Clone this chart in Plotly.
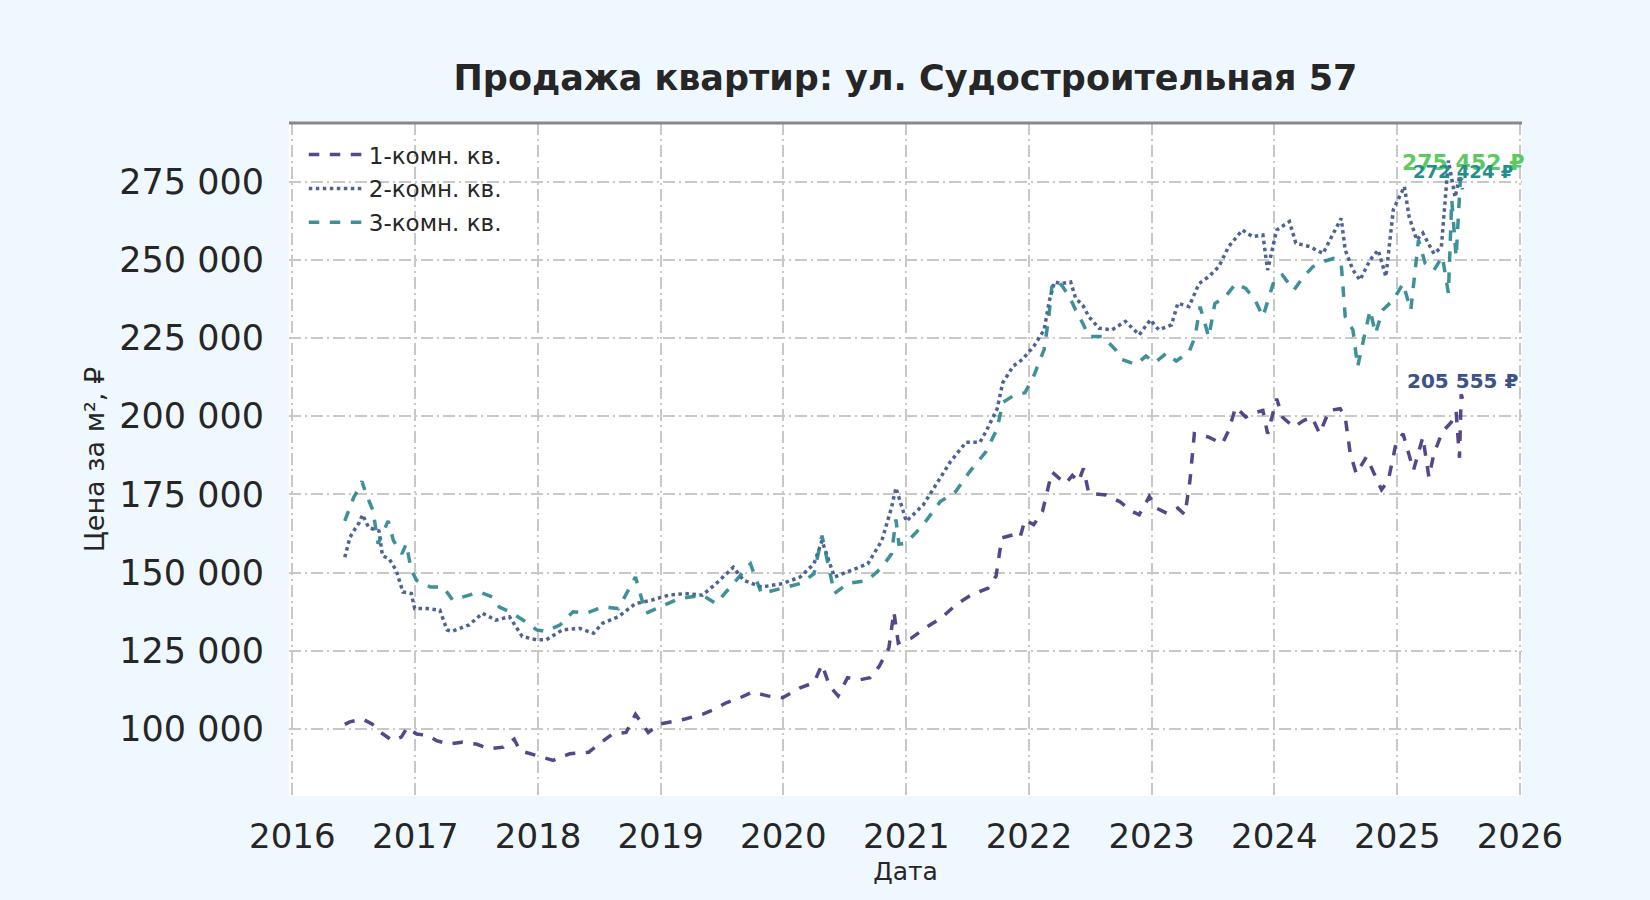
#! /usr/bin/env python3

import plotly.graph_objects as go

title = "Продажа квартир: ул. Судостроительная 57"
names = ["1-комн. кв.", "2-комн. кв.", "3-комн. кв."]

dates_1 = [
    "2016-06-05", "2016-06-20", "2016-07-10", "2016-07-28", "2016-08-25", "2016-09-20",
    "2016-10-25", "2016-11-20", "2016-12-08", "2017-01-05", "2017-02-10", "2017-03-05",
    "2017-04-10", "2017-05-20", "2017-07-01", "2017-08-10", "2017-09-20", "2017-10-22",
    "2017-11-08", "2017-12-28", "2018-02-15", "2018-04-05", "2018-06-01", "2018-07-01",
    "2018-08-10", "2018-09-20", "2018-10-18", "2018-11-25", "2018-12-30", "2019-03-15",
    "2019-05-05", "2019-06-10", "2019-07-15", "2019-08-25", "2019-10-01", "2019-11-15",
    "2019-12-30", "2020-02-20", "2020-04-01", "2020-04-25", "2020-05-18", "2020-06-12",
    "2020-07-10", "2020-08-18", "2020-09-15", "2020-10-12", "2020-11-10", "2020-11-25",
    "2020-12-08", "2021-01-15", "2021-03-01", "2021-04-15", "2021-06-01", "2021-07-15",
    "2021-09-01", "2021-09-25", "2021-10-12", "2021-11-15", "2021-12-05", "2021-12-20",
    "2022-01-15", "2022-02-10", "2022-02-22", "2022-03-10", "2022-04-01", "2022-04-20",
    "2022-05-10", "2022-05-28", "2022-06-12", "2022-06-28", "2022-08-18", "2022-09-28",
    "2022-11-05", "2022-11-25", "2022-12-25", "2023-01-15", "2023-02-15", "2023-03-20",
    "2023-04-10", "2023-04-25", "2023-05-08", "2023-06-20", "2023-07-30", "2023-08-18",
    "2023-09-08", "2023-10-08", "2023-10-25", "2023-11-28", "2023-12-12", "2024-01-08",
    "2024-01-25", "2024-02-28", "2024-03-28", "2024-04-22", "2024-05-15", "2024-06-12",
    "2024-07-15", "2024-07-30", "2024-08-14", "2024-09-01", "2024-10-01", "2024-10-25",
    "2024-11-15", "2024-12-05", "2024-12-28", "2025-01-18", "2025-02-18", "2025-03-18",
    "2025-04-05", "2025-04-20", "2025-05-15", "2025-06-10", "2025-06-25", "2025-07-05",
    "2025-07-10", "2025-07-14",
]
price_1 = [
    101500, 102300, 102800, 103200, 101600, 98900,
    96300, 97400, 100500, 98400, 97900, 96300,
    95200, 95800, 95200, 93700, 94200, 96800,
    93100, 91600, 90000, 92100, 92600, 95200,
    98400, 98900, 104700, 98900, 101600, 103200,
    104700, 106300, 108400, 110000, 111800, 110600,
    110000, 113200, 114800, 120600, 113700, 110600,
    116400, 115800, 116400, 120000, 125900, 137500,
    127500, 129000, 132500, 135500, 140000, 143000,
    145000, 148900, 161100, 162100, 161100, 166900,
    165300, 169500, 174800, 182200, 180100, 178500,
    181100, 179000, 183300, 175300, 174800, 172700,
    169500, 168500, 174300, 170600, 169000, 170600,
    168500, 179400, 194400, 193300, 191200, 195400,
    202900, 199700, 200800, 201800, 194400, 205600,
    199700, 196500, 198600, 199700, 194400, 201800,
    202400, 199700, 188000, 181600, 187000, 181600,
    176500, 179400, 191200, 194400, 182700, 193300,
    180500, 188000, 195000, 198000, 201500, 186700,
    207000, 205555,
]

dates_2 = [
    "2016-06-05", "2016-06-20", "2016-07-05", "2016-07-18", "2016-07-28", "2016-08-15",
    "2016-09-15", "2016-09-25", "2016-10-15", "2016-11-05", "2016-11-25", "2016-12-20",
    "2016-12-30", "2017-02-05", "2017-03-15", "2017-04-05", "2017-04-20", "2017-06-10",
    "2017-07-20", "2017-08-28", "2017-10-08", "2017-11-15", "2017-12-28", "2018-01-25",
    "2018-03-15", "2018-05-05", "2018-06-15", "2018-07-12", "2018-08-28", "2018-10-18",
    "2018-12-05", "2019-01-25", "2019-03-15", "2019-05-05", "2019-06-15", "2019-08-05",
    "2019-09-05", "2019-10-28", "2019-12-30", "2020-02-20", "2020-04-01", "2020-04-25",
    "2020-06-01", "2020-07-30", "2020-09-08", "2020-10-20", "2020-11-18", "2020-12-01",
    "2021-01-01", "2021-02-20", "2021-04-12", "2021-05-12", "2021-06-28", "2021-08-08",
    "2021-08-25", "2021-09-28", "2021-10-15", "2021-11-15", "2021-12-12", "2022-01-15",
    "2022-02-15", "2022-03-03", "2022-03-18", "2022-04-05", "2022-05-05", "2022-05-20",
    "2022-06-10", "2022-06-28", "2022-07-28", "2022-09-05", "2022-10-15", "2022-11-25",
    "2022-12-28", "2023-01-22", "2023-03-01", "2023-03-20", "2023-04-22", "2023-05-22",
    "2023-06-20", "2023-07-20", "2023-08-18", "2023-09-28", "2023-10-28", "2023-11-28",
    "2023-12-12", "2024-01-08", "2024-02-15", "2024-03-05", "2024-04-15", "2024-05-25",
    "2024-06-25", "2024-07-18", "2024-07-30", "2024-08-22", "2024-09-12", "2024-10-12",
    "2024-11-05", "2024-11-28", "2024-12-20", "2025-01-08", "2025-01-22", "2025-02-05",
    "2025-02-28", "2025-03-18", "2025-04-20", "2025-05-12", "2025-06-02", "2025-06-22",
    "2025-07-05", "2025-07-14",
]
price_2 = [
    154900, 161200, 163900, 166000, 168500, 164400,
    163300, 155400, 154400, 150700, 143800, 143300,
    138500, 138500, 138000, 131700, 131200, 133300,
    137000, 134800, 135900, 129600, 128500, 128500,
    131700, 132200, 130600, 133800, 135900, 140100,
    141200, 142800, 143300, 142800, 146500, 151700,
    147500, 145400, 146500, 148600, 152800, 160200,
    148600, 151200, 152800, 160200, 170800, 177100,
    166400, 171600, 180100, 185400, 191700, 191700,
    194900, 202300, 210700, 216000, 218100, 222300,
    227600, 237100, 242900, 242400, 242900, 237600,
    235500, 231800, 228100, 227600, 230300, 226000,
    230800, 227600, 229200, 236100, 235000, 242400,
    244600, 247800, 254200, 259500, 257400, 257900,
    246700, 259500, 262200, 255300, 254200, 252000,
    258500, 263200, 253100, 246700, 243500, 249900,
    253100, 244600, 266000, 270200, 273400, 263800,
    256300, 258500, 251900, 254000, 281700, 270000,
    276400, 275452,
]

dates_3 = [
    "2016-06-05", "2016-07-01", "2016-07-15", "2016-07-26", "2016-08-08", "2016-08-28",
    "2016-09-12", "2016-10-12", "2016-10-28", "2016-11-22", "2016-12-05", "2016-12-20",
    "2017-01-05", "2017-02-15", "2017-03-25", "2017-04-22", "2017-06-10", "2017-07-12",
    "2017-08-18", "2017-09-08", "2017-10-08", "2017-11-18", "2017-12-28", "2018-01-25",
    "2018-03-08", "2018-04-15", "2018-05-25", "2018-07-12", "2018-08-28", "2018-10-18",
    "2018-11-18", "2018-12-28", "2019-02-25", "2019-05-05", "2019-06-15", "2019-08-05",
    "2019-09-25", "2019-10-28", "2019-12-30", "2020-02-20", "2020-04-01", "2020-04-25",
    "2020-06-01", "2020-07-10", "2020-09-08", "2020-10-20", "2020-11-18", "2020-12-01",
    "2020-12-10", "2021-01-01", "2021-02-20", "2021-04-12", "2021-05-28", "2021-07-08",
    "2021-08-25", "2021-09-28", "2021-10-15", "2021-11-15", "2021-12-20", "2022-01-15",
    "2022-02-15", "2022-03-01", "2022-03-10", "2022-03-25", "2022-04-12", "2022-05-01",
    "2022-05-20", "2022-06-10", "2022-06-28", "2022-08-08", "2022-09-15", "2022-10-05",
    "2022-11-15", "2022-12-15", "2023-01-10", "2023-02-15", "2023-03-15", "2023-04-22",
    "2023-05-10", "2023-05-25", "2023-06-20", "2023-07-08", "2023-08-08", "2023-09-08",
    "2023-10-08", "2023-11-05", "2023-11-28", "2024-01-01", "2024-01-25", "2024-02-28",
    "2024-03-28", "2024-04-25", "2024-05-25", "2024-06-25", "2024-07-18", "2024-07-30",
    "2024-08-22", "2024-09-05", "2024-09-20", "2024-10-12", "2024-10-28", "2024-11-18",
    "2024-12-20", "2025-01-18", "2025-02-10", "2025-03-05", "2025-03-25", "2025-04-20",
    "2025-05-15", "2025-06-02", "2025-06-12", "2025-06-25", "2025-07-08", "2025-07-14",
]
price_3 = [
    166500, 173900, 176600, 179200, 175000, 169800,
    159200, 166500, 160200, 156000, 159200, 150700,
    147500, 145400, 145400, 141200, 142800, 143800,
    142200, 139000, 137500, 134800, 131700, 131200,
    133300, 137500, 137000, 139000, 138500, 148600,
    137000, 139000, 141700, 142800, 140100, 146500,
    152800, 143300, 144900, 146500, 149600, 161800,
    143300, 146500, 147500, 151700, 156000, 167000,
    159100, 159500, 165300, 172700, 175900, 182200,
    188500, 195900, 204400, 206500, 207500, 212800,
    221300, 231800, 241300, 243500, 241300, 238200,
    233900, 229700, 225500, 225500, 221300, 218100,
    216500, 219200, 217100, 220200, 217600, 220500,
    225300, 235000, 225300, 236000, 238100, 242400,
    240800, 237100, 231800, 243500, 245100, 240300,
    244600, 247800, 249400, 250400, 248800, 231800,
    227500, 215800, 223200, 233900, 226400, 233900,
    237100, 242400, 233900, 256300, 248800, 246700,
    251000, 239300, 269100, 250900, 276400, 272424,
]

line_colors = ["#46337e", "#3b528b", "#2a858e"]
line_dashes = ["dash", "dot", "dash"]
label_colors = ["#3b528b", "#5ec962", "#21908d"]
label_sizes = [20, 22, 18]

series = [(dates_1, price_1), (dates_2, price_2), (dates_3, price_3)]


def rub(v):
    return f"{v:,}".replace(",", " ") + " ₽"


fig = go.Figure()
for (x, y), name, color, dash in zip(series, names, line_colors, line_dashes):
    fig.add_trace(
        go.Scatter(
            x=x, y=y, name=name, legendgroup=name, mode="lines", opacity=0.9,
            line=dict(color=color, width=3.5, dash=dash),
        )
    )

for (x, y), color, size in zip(series, label_colors, label_sizes):
    fig.add_annotation(
        x=x[-1], y=y[-1], text=f"<b>{rub(y[-1])}</b>", showarrow=False,
        yanchor="middle", yshift=18,
        font=dict(size=size, color=color, family="DejaVu Sans"),
    )

grid = dict(showgrid=True, gridcolor="#c8c8c8", gridwidth=2,
            griddash="12px,4px,2px,4px", zeroline=False)

fig.update_layout(
    width=1650, height=900,
    margin=dict(l=289, r=128, t=123, b=104),
    paper_bgcolor="#f0f8ff", plot_bgcolor="white",
    font=dict(family="DejaVu Sans", color="#262626"),
    separators=", ",
    title=dict(
        text=f"<b>{title}</b>", x=0.5, xref="paper", y=1 - 78 / 900, yanchor="middle",
        font=dict(size=35, color="#262626"),
    ),
    legend=dict(
        x=0.012, y=0.985, xanchor="left", yanchor="top", bgcolor="rgba(0,0,0,0)",
        font=dict(size=23, color="#262626"), itemwidth=55, tracegroupgap=1,
    ),
    showlegend=True,
    shapes=[dict(type="line", xref="paper", yref="paper", x0=0, x1=1, y0=1, y1=1,
                 line=dict(color="#888888", width=3))],
)
fig.update_xaxes(
    **grid, range=["2015-12-22", "2026-01-07"], dtick="M12", tickformat="%Y",
    tickfont=dict(size=34), ticklabelstandoff=17,
    title=dict(text="Дата", font=dict(size=25), standoff=7),
)
fig.update_yaxes(
    **grid, range=[78600, 293700], dtick=25000, tickformat=",d",
    tickfont=dict(size=35), ticklabelstandoff=24,
    title=dict(text="Цена за м², ₽", font=dict(size=27), standoff=6),
)

fig.write_html(
    "out.html",
    config={"displayModeBar": False},
    post_script="document.body.style.margin='0';document.body.style.background='#f0f8ff';",
)
